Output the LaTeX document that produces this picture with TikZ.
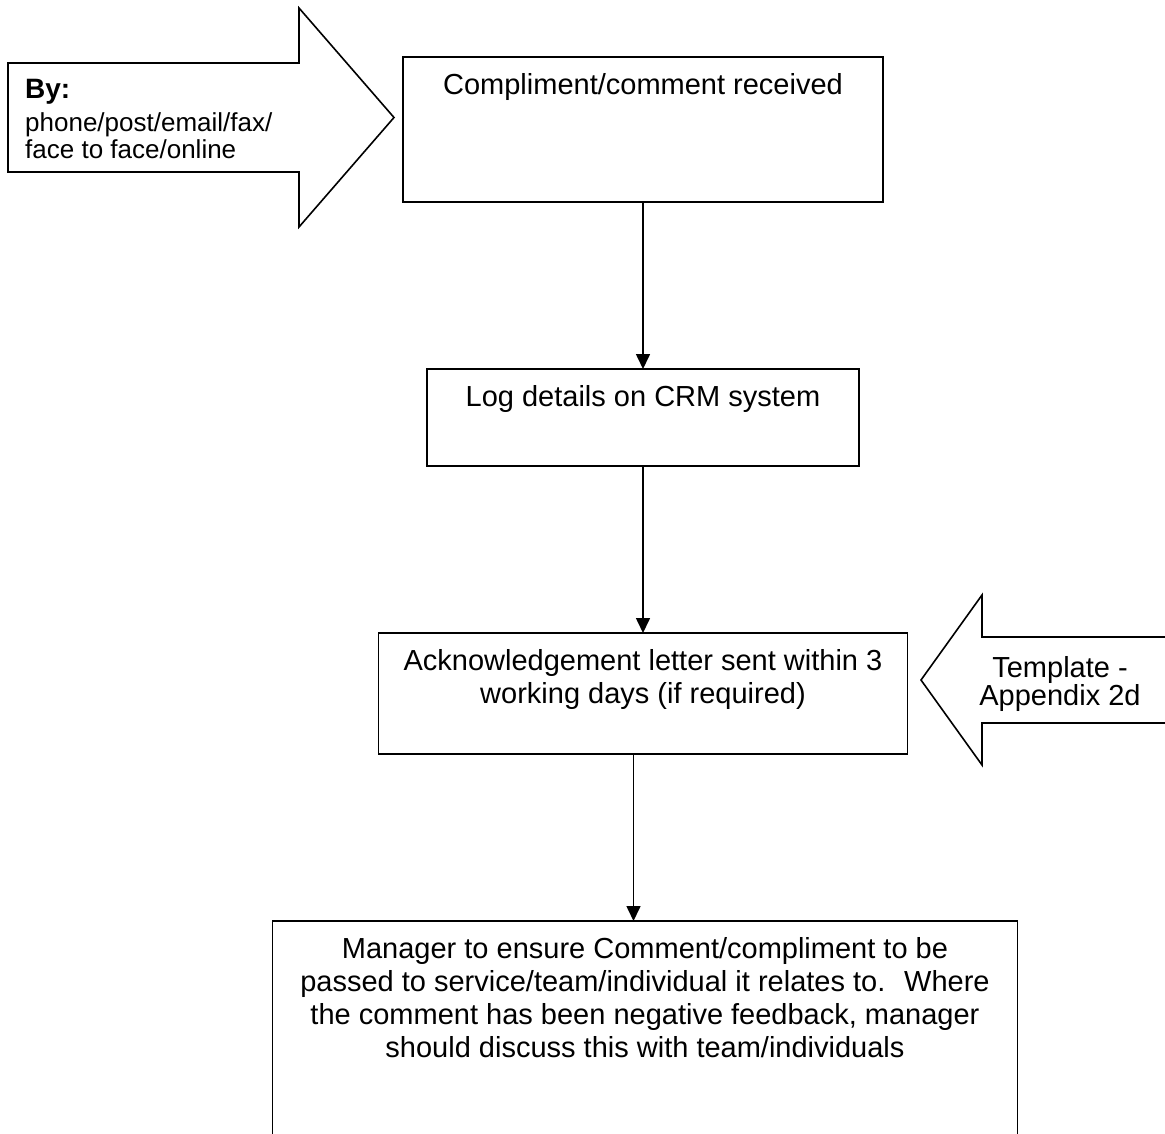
\documentclass[tikz,border=0pt]{standalone}
\usepackage{fontspec}
\setmainfont{Liberation Sans}
\usetikzlibrary{arrows.meta,positioning}
\newcommand{\boxtext}[3]{\parbox[t][#2][t]{#1}{\centering\rule{0pt}{37pt}#3}}

\begin{document}
\begin{tikzpicture}[x=1pt,y=-1pt,
	box/.style={draw,line width=1.6pt,inner sep=0pt,outer sep=0pt,anchor=north,font=\fontsize{29}{33}\selectfont},
	flow/.style={line width=1.6pt,-{Triangle[length=15pt,width=14pt]}},
	blockarrow/.style={draw,line width=1.6pt,fill=white},
	arrowtext/.style={inner sep=0pt}]
\useasboundingbox (0,0) rectangle (1165,1133);

\draw[blockarrow] (8,63) -- (299,63) -- (299,8) -- (394,117.5) -- (299,227) -- (299,172) -- (8,172) -- cycle;
\node[arrowtext,anchor=north west,align=left,font=\fontsize{26}{27}\selectfont] (channels) at (25,79)
	{{\fontsize{28}{27}\selectfont\bfseries By:}\\[6pt]phone/post/email/fax/\\face to face/online};

\node[box] (received) at (643,57) {\boxtext{480pt}{145pt}{Compliment/comment received}};
\node[box,below=167pt of received] (logcrm) {\boxtext{432pt}{97pt}{Log details on CRM system}};
\node[box,below=167pt of logcrm] (acknowledge) {\boxtext{529pt}{121pt}{Acknowledgement letter sent within 3\\working days (if required)}};
\node[box,below=167pt of acknowledge,xshift=2pt] (manager) {\boxtext{745pt}{260pt}{Manager to ensure Comment/compliment to be\\passed to service/team/individual it relates to.~ Where\\the comment has been negative feedback, manager\\should discuss this with team/individuals}};

\draw[blockarrow] (1170,637) -- (982,637) -- (982,595) -- (921,680) -- (982,765) -- (982,723) -- (1170,723);
\node[arrowtext,anchor=north,align=center,font=\fontsize{29}{28}\selectfont] (template) at (1060,656) {Template -\\Appendix 2d};

\draw[flow] (received.south) -- (logcrm.north);
\draw[flow] (logcrm.south) -- (acknowledge.north);
\draw[flow] ([xshift=-9.5pt]acknowledge.south) -- ([xshift=-11.5pt]manager.north);
\end{tikzpicture}
\end{document}
